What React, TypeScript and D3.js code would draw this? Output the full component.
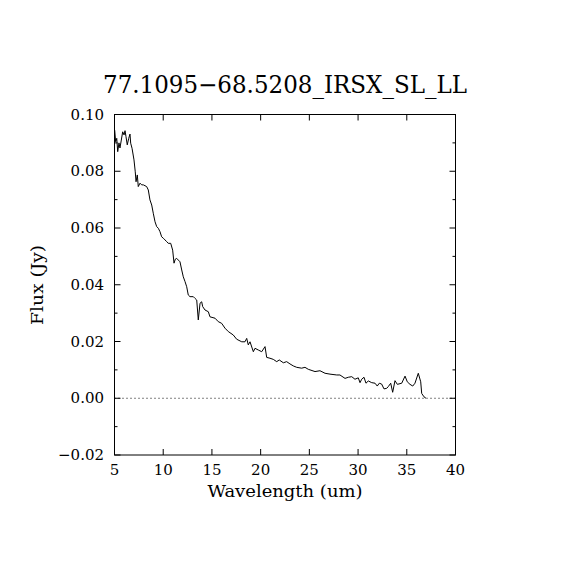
import React from "react";
import * as d3 from "d3";

const title = "77.1095\u221268.5208_IRSX_SL_LL";
const xLabel = "Wavelength (um)";
const yLabel = "Flux (Jy)";

const wavelength = [
  5.02, 5.12, 5.23, 5.33, 5.46, 5.56, 5.7, 5.84, 5.98, 6.08, 6.18, 6.31, 6.46, 6.59, 6.66, 6.8,
  7.0, 7.13, 7.21, 7.34, 7.44, 7.62, 7.79, 7.96, 8.3, 8.47, 8.64, 8.82, 8.98, 9.16, 9.33, 9.5,
  9.67, 9.84, 10.01, 10.18, 10.36, 10.52, 10.77, 10.97, 11.11, 11.24, 11.38, 11.55, 11.72, 11.9,
  12.06, 12.24, 12.41, 12.57, 12.75, 13.09, 13.26, 13.44, 13.6, 13.78, 13.95, 14.05, 14.29, 14.63,
  14.8, 15.32, 15.65, 16.0, 16.34, 16.68, 17.19, 17.54, 18.06, 18.39, 18.57, 18.73, 18.91, 19.25,
  19.42, 19.76, 20.11, 20.45, 20.62, 20.96, 21.3, 21.65, 21.91, 22.33, 22.67, 23.01, 23.35, 23.7,
  24.21, 24.55, 24.89, 25.58, 26.09, 26.61, 27.12, 27.81, 28.14, 28.66, 29.0, 29.35, 29.68, 30.02,
  30.2, 30.37, 30.61, 30.81, 31.05, 31.4, 31.74, 31.97, 32.18, 32.42, 32.66, 32.94, 33.1, 33.35,
  33.55, 33.79, 34.03, 34.48, 34.82, 35.05, 35.33, 35.61, 35.84, 36.18, 36.43, 36.53, 36.77, 36.97,
];

const flux = [
  0.0945, 0.0904, 0.0916, 0.0869, 0.09, 0.0882, 0.091, 0.0939, 0.0928, 0.0943, 0.0922, 0.0893,
  0.0916, 0.0931, 0.0899, 0.0881, 0.084, 0.0798, 0.0763, 0.0787, 0.0746, 0.0758, 0.0752, 0.0752,
  0.0746, 0.0734, 0.0699, 0.0681, 0.0652, 0.0622, 0.0605, 0.0599, 0.0587, 0.0569, 0.0564, 0.0558,
  0.0552, 0.0546, 0.0546, 0.0522, 0.0476, 0.049, 0.0493, 0.0487, 0.0481, 0.0452, 0.0428, 0.0411,
  0.0393, 0.0364, 0.0358, 0.0358, 0.0352, 0.0346, 0.0276, 0.0335, 0.034, 0.0323, 0.0311, 0.0305,
  0.0287, 0.0282, 0.027, 0.0264, 0.0247, 0.0235, 0.0223, 0.0208, 0.0199, 0.0199, 0.0211, 0.0188,
  0.0199, 0.0164, 0.0176, 0.017, 0.0164, 0.0182, 0.0144, 0.0141, 0.0137, 0.0129, 0.0135, 0.0125,
  0.0129, 0.0121, 0.0114, 0.0109, 0.0106, 0.0109, 0.0102, 0.0094, 0.0097, 0.0088, 0.0085, 0.0082,
  0.0082, 0.007, 0.0074, 0.0076, 0.0067, 0.0072, 0.0055, 0.0067, 0.0074, 0.0053, 0.0061, 0.0055,
  0.0053, 0.0043, 0.0053, 0.005, 0.0033, 0.0035, 0.0041, 0.0053, 0.0021, 0.0062, 0.0049, 0.0053,
  0.0078, 0.0058, 0.0049, 0.0043, 0.0053, 0.0088, 0.0058, 0.0017, 0.0005, 0.0,
];

const xTicks = [5, 10, 15, 20, 25, 30, 35, 40];
const yTicksMajor = [-0.02, 0, 0.02, 0.04, 0.06, 0.08, 0.1];
const yTicksMinor = [-0.01, 0.01, 0.03, 0.05, 0.07, 0.09];

export default function App() {
  const W = 570;
  const H = 570;
  const left = 114.5;
  const right = 455.5;
  const top = 114.5;
  const bottom = 455;
  const font = "'DejaVu Serif', serif";

  const x = d3.scaleLinear().domain([5, 40]).range([left, right]);
  const y = d3.scaleLinear().domain([-0.02, 0.1]).range([bottom, top]);

  const data = wavelength.map((w, i) => [w, flux[i]] as [number, number]);
  const line = d3
    .line<[number, number]>()
    .x((d) => x(d[0]))
    .y((d) => y(d[1]));

  const major = 6;
  const minor = 3;

  return (
    <svg
      width={W}
      height={H}
      style={{ position: "absolute", left: 0, top: 0, background: "#fff" }}
    >
      <rect x={0} y={0} width={W} height={H} fill="#fff" />
      <text
        x={285}
        y={93}
        textAnchor="middle"
        fontFamily={font}
        fontSize={24}
        textLength={364}
        lengthAdjust="spacingAndGlyphs"
        fill="#000"
      >
        {title}
      </text>

      {/* zero line */}
      <line
        x1={left}
        x2={right}
        y1={y(0)}
        y2={y(0)}
        stroke="#000"
        strokeWidth={1}
        strokeDasharray="1,3"
      />

      {/* spectrum */}
      <path d={line(data) || ""} fill="none" stroke="#000" strokeWidth={1} />

      {/* frame */}
      <rect
        x={left}
        y={top}
        width={right - left}
        height={bottom - top}
        fill="none"
        stroke="#000"
        strokeWidth={1}
      />

      {/* x ticks */}
      {xTicks.map((t) => (
        <g key={"x" + t}>
          <line x1={x(t)} x2={x(t)} y1={bottom} y2={bottom - major} stroke="#000" />
          <line x1={x(t)} x2={x(t)} y1={top} y2={top + major} stroke="#000" />
          <text
            x={x(t)}
            y={475}
            textAnchor="middle"
            fontFamily={font}
            fontSize={15}
            fill="#000"
          >
            {t}
          </text>
        </g>
      ))}

      {/* y ticks */}
      {yTicksMajor.map((t) => (
        <g key={"y" + t}>
          <line x1={left} x2={left + major} y1={y(t)} y2={y(t)} stroke="#000" />
          <line x1={right} x2={right - major} y1={y(t)} y2={y(t)} stroke="#000" />
          <text
            x={104}
            y={y(t) + 5}
            textAnchor="end"
            fontFamily={font}
            fontSize={15}
            fill="#000"
          >
            {t < 0 ? "\u2212" + Math.abs(t).toFixed(2) : t.toFixed(2)}
          </text>
        </g>
      ))}
      {yTicksMinor.map((t) => (
        <g key={"ym" + t}>
          <line x1={left} x2={left + minor} y1={y(t)} y2={y(t)} stroke="#000" />
          <line x1={right} x2={right - minor} y1={y(t)} y2={y(t)} stroke="#000" />
        </g>
      ))}

      <text
        x={285}
        y={497}
        textAnchor="middle"
        fontFamily={font}
        fontSize={16}
        textLength={155}
        lengthAdjust="spacingAndGlyphs"
        fill="#000"
      >
        {xLabel}
      </text>
      <text
        transform={`translate(43,285) rotate(-90)`}
        textAnchor="middle"
        fontFamily={font}
        fontSize={16}
        textLength={80}
        lengthAdjust="spacingAndGlyphs"
        fill="#000"
      >
        {yLabel}
      </text>
    </svg>
  );
}
